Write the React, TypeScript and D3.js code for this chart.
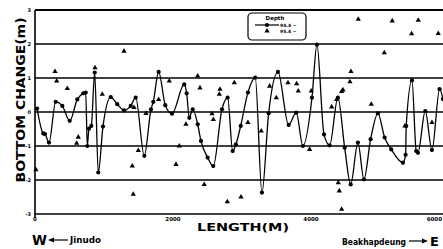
import React from "react";
import * as d3 from "d3";

const lineLength = [30,120,145,203,300,396,503,613,700,735,758,782,816,865,917,985,1097,1192,1290,1387,1459,1584,1681,1714,1792,1888,1985,2163,2198,2236,2285,2358,2405,2502,2584,2710,2792,2865,2912,2981,3086,3192,3289,3386,3521,3676,3786,3883,4014,4086,4188,4270,4390,4488,4575,4680,4767,4864,4970,5067,5163,5332,5371,5380,5463,5525,5550,5656,5753,5864,5912];
const lineChange = [0.1,-0.63,-0.65,-0.9,0.3,0.18,-0.26,0.37,0.55,0.57,-1.0,-0.49,-0.41,1.16,-1.78,-0.43,0.44,0.23,0.05,0.18,0.42,-1.29,0.08,0.3,1.18,0.2,-0.05,0.81,0.55,-0.17,0.08,-0.36,-0.85,-1.34,-1.59,0.08,0.42,-1.15,-0.95,-0.41,0.57,1.01,-2.37,-0.04,1.18,-0.38,-0.02,-1.0,0.42,1.98,-0.66,-0.98,0.42,-1.05,-2.13,-0.9,-1.98,-0.8,-0.04,-0.75,-1.1,-1.49,-1.26,-0.41,0.93,-1.15,-1.2,0.03,-1.12,0.67,0.38];

const triLength = [290,314,468,870,1290,14,627,604,975,1435,1410,1424,1497,1608,1792,1946,2043,2091,2188,2358,2391,2453,2565,2584,2671,2681,2787,2888,2985,3086,3279,3401,3497,3666,3792,3815,3980,4004,4299,4372,4395,4410,4444,4444,4463,4564,4579,4685,4873,5062,5177,5361,5458,5554,5753,5844];
const triChange = [1.19,0.91,0.69,1.3,1.79,-1.7,-0.74,-0.92,0.52,0.13,-1.59,-2.42,-1.13,-0.04,0.37,0.91,-1.54,-1.0,-0.36,1.06,0.71,-2.13,-0.05,-0.22,0.52,0.67,-2.64,0.86,-2.5,-0.31,-0.56,0.76,0.42,0.86,0.83,0.62,-1.1,0.62,0.15,0.37,-2.08,-2.32,-2.86,0.6,0.65,0.89,1.19,2.73,0.23,1.74,2.68,-0.41,2.3,2.7,-0.31,2.31];

const yTicks = [3,2,1,0,-1,-2,-3];
const xTicks = [0,2000,4000,6000];
const legendLabels = ["94.4 ~", "95.4 ~"];

export default function App() {
  const W = 443, H = 249;
  const x = d3.scaleLinear().domain([0, 6000]).range([35, 449]);
  const y = d3.scaleLinear().domain([-3, 3]).range([214, 10]);
  const pts: [number, number][] = lineLength.map((l, i) => [l, lineChange[i]]);
  const line = d3.line<[number, number]>().x(d => x(d[0])).y(d => y(d[1])).curve(d3.curveMonotoneX);
  const tri = d3.symbol().type(d3.symbolTriangle).size(12);
  const font = "'DejaVu Sans', Arial, sans-serif";
  return (
    <svg width={W} height={H} style={{ position: "absolute", left: 0, top: 0, background: "#fff" }} fontFamily={font}>
      <defs>
        <clipPath id="plot"><rect x={30} y={0} width={W - 30} height={220} /></clipPath>
      </defs>
      {yTicks.map(t => (
        <line key={t} x1={x(0)} x2={W} y1={y(t)} y2={y(t)} stroke="#000" strokeWidth={t === 3 ? 1.8 : 1.3} />
      ))}
      <line x1={x(0)} x2={x(0)} y1={y(3)} y2={y(-3) + 4} stroke="#000" strokeWidth={1.6} />
      {yTicks.map(t => (
        <text key={t} x={x(0) - 4} y={y(t) + 2} fontSize={5} fontWeight="bold" textAnchor="end">{t}</text>
      ))}
      {xTicks.map(t => (
        <text key={t} x={Math.min(x(t), W - 1)} y={y(-3) + 7} fontSize={5.5} fontWeight="bold"
          textAnchor={x(t) + 8 > W ? "end" : "middle"}>{t}</text>
      ))}
      <g clipPath="url(#plot)">
        <path d={line(pts) || ""} fill="none" stroke="#000" strokeWidth={1.3} />
        {pts.map((p, i) => (
          <circle key={i} cx={x(p[0])} cy={y(p[1])} r={2.1} fill="#000" />
        ))}
        {triLength.map((l, i) => (
          <path key={i} d={tri() || ""} transform={`translate(${x(l)},${y(triChange[i])})`} fill="#000" />
        ))}
      </g>
      <rect x={248} y={13} width={58} height={27} rx={4} fill="#fff" stroke="#000" strokeWidth={1.2} />
      <text x={275} y={20} fontSize={5.5} fontWeight="bold" textAnchor="middle">Depth</text>
      <line x1={255} x2={279} y1={25} y2={25} stroke="#000" strokeWidth={1.2} />
      <circle cx={267} cy={25} r={2.1} fill="#000" />
      <path d={tri() || ""} transform="translate(267,31)" fill="#000" />
      <text x={280} y={27} fontSize={4.5} fontWeight="bold">{legendLabels[0]}</text>
      <text x={280} y={33} fontSize={4.5} fontWeight="bold">{legendLabels[1]}</text>
      <text transform="translate(25,100) rotate(-90)" fontSize={12} fontWeight="bold" textAnchor="middle" textLength={165} lengthAdjust="spacingAndGlyphs">BOTTOM CHANGE(m)</text>
      <text x={243} y={231} fontSize={11} fontWeight="bold" textAnchor="middle" textLength={92} lengthAdjust="spacingAndGlyphs">LENGTH(M)</text>
      <text x={32} y={245} fontSize={14} fontWeight="bold" textLength={15} lengthAdjust="spacingAndGlyphs">W</text>
      <line x1={52} x2={68} y1={240} y2={240} stroke="#000" strokeWidth={1.2} />
      <path d="M48,240 L54,237.5 L54,242.5 Z" fill="#000" />
      <text x={70} y={243} fontSize={8} fontWeight="bold" textLength={31} lengthAdjust="spacingAndGlyphs">Jinudo</text>
      <text x={342} y={245} fontSize={8} fontWeight="bold" textLength={64} lengthAdjust="spacingAndGlyphs">Beakhapdeung</text>
      <line x1={409} x2={424} y1={241} y2={241} stroke="#000" strokeWidth={1.2} />
      <path d="M428,241 L422,238.5 L422,243.5 Z" fill="#000" />
      <text x={430} y={246} fontSize={13} fontWeight="bold">E</text>
    </svg>
  );
}
